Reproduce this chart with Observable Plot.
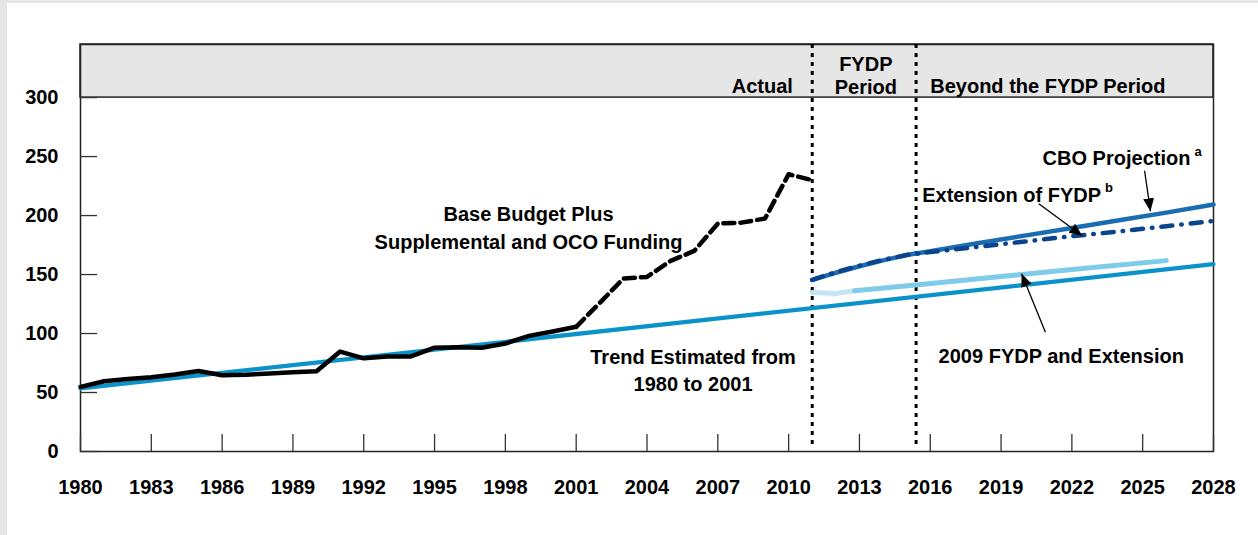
<!DOCTYPE html>
<html>
<head>
<meta charset="utf-8">
<script src="https://cdn.jsdelivr.net/npm/d3@7"></script>
<script src="https://cdn.jsdelivr.net/npm/@observablehq/plot@0.6"></script>
<style>
html, body { margin: 0; padding: 0; background: #e6e6e6; width: 1258px; height: 535px; overflow: hidden; }
#panel { position: absolute; left: 7px; top: 3px; width: 1251px; height: 532px; background: #ffffff; }
#chart { position: absolute; left: 0; top: 0; }
</style>
</head>
<body>
<div id="panel"></div>
<div id="chart"></div>
<script>
// ---- Data ----
const xTicks = [1980, 1983, 1986, 1989, 1992, 1995, 1998, 2001, 2004, 2007, 2010, 2013, 2016, 2019, 2022, 2025, 2028];
const yTicks = [0, 50, 100, 150, 200, 250, 300];
const xDomain = [1980, 2028];
const yDomain = [0, 345];
const bandRange = [300, 345];
const periodBounds = [2011, 2015.4];

const actualYears  = [1980, 1981, 1982, 1983, 1984, 1985, 1986, 1987, 1988, 1989, 1990, 1991, 1992, 1993, 1994, 1995, 1996, 1997, 1998, 1999, 2000, 2001];
const actualValues = [54.8, 59.5, 61.5, 63.0, 65.2, 68.2, 64.7, 65.0, 66.2, 67.2, 68.0, 84.7, 79.0, 80.5, 80.6, 88.0, 88.4, 88.0, 91.5, 98.0, 101.7, 105.7];

const totalYears  = [2001, 2002, 2003, 2004, 2005, 2006, 2007, 2008, 2009, 2010, 2011];
const totalValues = [105.7, 126.0, 146.6, 148.0, 161.6, 170.0, 193.2, 194.0, 197.5, 235.0, 230.0];

const trendYears  = [1980, 2028];
const trendValues = [53.5, 158.8];

const cboYears  = [2011, 2012, 2013, 2014, 2015, 2016, 2018, 2020, 2022, 2024, 2026, 2028];
const cboValues = [145.5, 151.5, 157.0, 162.0, 166.5, 169.8, 176.5, 183.0, 189.5, 196.0, 202.5, 209.3];

const extYears  = [2011, 2012, 2013, 2014, 2015, 2016, 2018, 2020, 2022, 2024, 2026, 2028];
const extValues = [145.5, 152.0, 157.5, 162.5, 166.5, 169.0, 173.5, 178.0, 182.5, 186.5, 191.0, 195.5];

const fydp09PaleYears  = [2011, 2012, 2012.8];
const fydp09PaleValues = [134.8, 134.0, 136.3];
const fydp09Years  = [2012.8, 2015.6, 2019, 2022, 2026];
const fydp09Values = [136.3, 141.5, 148.3, 154.2, 161.8];

const annotations = [
  {text: "Base Budget Plus\nSupplemental and OCO Funding", year: 1998.98, value: 191.3, anchor: "middle", lh: 1.4, size: 20},
  {text: "Trend Estimated from\n1980 to 2001", year: 2005.95, value: 69.8, anchor: "middle", lh: 1.33, size: 20},
  {text: "Actual", year: 2010.18, value: 309.2, anchor: "end", lh: 1, size: 20},
  {text: "FYDP\nPeriod", year: 2013.27, value: 318.7, anchor: "middle", lh: 1.13, size: 20},
  {text: "Beyond the FYDP Period", year: 2016.0, value: 309.2, anchor: "start", lh: 1, size: 20},
  {text: "CBO Projection", year: 2020.76, value: 248.6, anchor: "start", lh: 1, size: 20},
  {text: "a", year: 2027.2, value: 253.8, anchor: "start", lh: 1, size: 13},
  {text: "Extension of FYDP", year: 2015.66, value: 217.2, anchor: "start", lh: 1, size: 20},
  {text: "b", year: 2023.4, value: 223.8, anchor: "start", lh: 1, size: 13},
  {text: "2009 FYDP and Extension", year: 2021.55, value: 80.7, anchor: "middle", lh: 1, size: 20}
];

const arrows = [
  {x1: 2025.08, y1: 238.0, x2: 2025.33, y2: 203.6},
  {x1: 2020.60, y1: 210.0, x2: 2022.44, y2: 182.8},
  {x1: 2020.88, y1: 101.1, x2: 2019.87, y2: 150.6}
];

// ---- Build tables ----
const zip = (xs, vs) => xs.map((x, i) => ({year: x, value: vs[i]}));
const actual = zip(actualYears, actualValues);
const total = zip(totalYears, totalValues);
const trend = zip(trendYears, trendValues);
const cbo = zip(cboYears, cboValues);
const ext = zip(extYears, extValues);
const fydpPale = zip(fydp09PaleYears, fydp09PaleValues);
const fydp09 = zip(fydp09Years, fydp09Values);

function filledArrow(color, context) {
  const ns = "http://www.w3.org/2000/svg";
  const doc = (context && context.document) || document;
  const m = doc.createElementNS(ns, "marker");
  m.setAttribute("viewBox", "-13 -6 13 12");
  m.setAttribute("markerWidth", 13);
  m.setAttribute("markerHeight", 12);
  m.setAttribute("markerUnits", "userSpaceOnUse");
  m.setAttribute("orient", "auto");
  const p = doc.createElementNS(ns, "path");
  p.setAttribute("d", "M0,0L-13,-5.5L-13,5.5Z");
  p.setAttribute("fill", color);
  p.setAttribute("stroke", "none");
  m.appendChild(p);
  return m;
}

const font = "'Liberation Sans', Arial, Helvetica, sans-serif";

const textMarks = annotations.map(a => Plot.text([a], {
  x: "year", y: "value", text: "text",
  textAnchor: a.anchor, lineHeight: a.lh, fontSize: a.size,
  fontWeight: "bold", fill: "black"
}));

const chart = Plot.plot({
  width: 1258,
  height: 535,
  marginLeft: 80,
  marginRight: 45,
  marginTop: 44,
  marginBottom: 84,
  style: {fontFamily: font, fontSize: "20px", fontWeight: "bold", background: "transparent", color: "black"},
  x: {domain: xDomain, label: null},
  y: {domain: yDomain, label: null},
  marks: [
    Plot.rect([0], {x1: xDomain[0], x2: xDomain[1], y1: bandRange[0], y2: bandRange[1], fill: "#e6e6e6", stroke: "#222", strokeWidth: 1.5}),
    Plot.frame({stroke: "#222", strokeWidth: 1.5}),
    Plot.axisY({ticks: yTicks, tickSize: 17, dx: 17, tickFormat: () => "", stroke: "#333", strokeWidth: 1.3, label: null}),
    Plot.axisX({ticks: xTicks, tickSize: 17, dy: -17, tickFormat: () => "", stroke: "#333", strokeWidth: 1.3, label: null}),
    Plot.axisY({ticks: yTicks, tickSize: 0, tickPadding: 22, fontSize: 20, fontWeight: "bold", label: null}),
    Plot.axisX({ticks: xTicks, tickSize: 0, tickPadding: 28, fontSize: 20, fontWeight: "bold", tickFormat: d => String(d), label: null}),
    Plot.ruleX(periodBounds, {y1: bandRange[1], y2: 4, stroke: "black", strokeWidth: 3, strokeDasharray: "4,5"}),
    Plot.line(trend, {x: "year", y: "value", stroke: "#0b93c9", strokeWidth: 4.3}),
    Plot.line(fydpPale, {x: "year", y: "value", stroke: "#c2e4f5", strokeWidth: 5}),
    Plot.line(fydp09, {x: "year", y: "value", stroke: "#7fcbea", strokeWidth: 5}),
    Plot.line(cbo, {x: "year", y: "value", stroke: "#1b6db2", strokeWidth: 4.5}),
    Plot.line(ext, {x: "year", y: "value", stroke: "#0b438d", strokeWidth: 4.5, strokeDasharray: "11,9,0.5,9", strokeLinecap: "round"}),
    Plot.line(actual, {x: "year", y: "value", stroke: "black", strokeWidth: 4.5}),
    Plot.line(total, {x: "year", y: "value", stroke: "black", strokeWidth: 4.5, strokeDasharray: "11,6"}),
    Plot.link(arrows, {x1: "x1", y1: "y1", x2: "x2", y2: "y2", stroke: "black", strokeWidth: 1.3, markerEnd: filledArrow}),
    ...textMarks
  ]
});

document.getElementById("chart").appendChild(chart);
</script>
</body>
</html>
